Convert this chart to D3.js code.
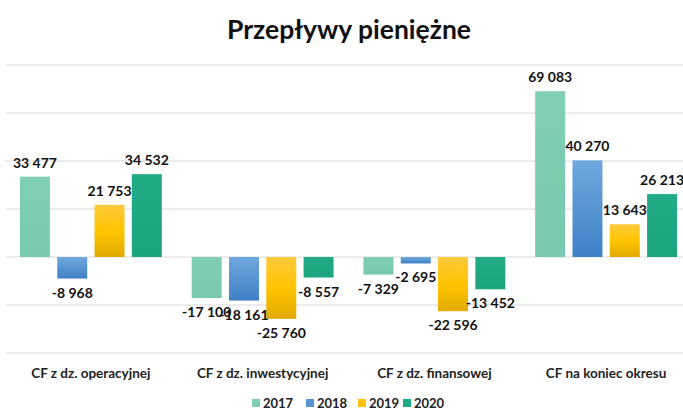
<!DOCTYPE html>
<html>
<head>
<meta charset="utf-8">
<script src="https://cdn.jsdelivr.net/npm/d3@7.9.0/dist/d3.min.js"></script>
<style>
  html, body { margin: 0; padding: 0; background: #fff; }
  svg { display: block; font-family: Lato, "Open Sans", sans-serif; }
</style>
</head>
<body>
<div id="chart"></div>
<script>
const categories = ['CF z dz. operacyjnej', 'CF z dz. inwestycyjnej', 'CF z dz. finansowej', 'CF na koniec okresu'];
const years = ['2017', '2018', '2019', '2020'];
const v2017 = [33477, -17100, -7329, 69083];
const v2018 = [-8968, -18161, -2695, 40270];
const v2019 = [21753, -25760, -22596, 13643];
const v2020 = [34532, -8557, -13452, 26213];
const yTicks = [-40000, -20000, 0, 20000, 40000, 60000, 80000];

const seriesValues = [v2017, v2018, v2019, v2020];
const width = 683, height = 410;

const fmt = d3.formatLocale({ decimal: ',', thousands: '\u00a0', grouping: [3], currency: ['', ''], minus: '-' }).format(',d');

const svg = d3.select('#chart').append('svg')
  .attr('width', width).attr('height', height);

// gradients
const defs = svg.append('defs');
const grads = [
  ['g2017', '#80cfb4', '#78c9ad'],
  ['g2018', '#70a8de', '#3f80c6'],
  ['g2019', '#ffca3c', '#e2ab00'],
  ['g2020', '#20ab87', '#1ca47f'],
];
grads.forEach(([id, c1, c2]) => {
  const lg = defs.append('linearGradient').attr('id', id)
    .attr('x1', 0).attr('y1', 0).attr('x2', 0).attr('y2', 1);
  lg.append('stop').attr('offset', '0%').attr('stop-color', c1);
  if (id === 'g2019') lg.append('stop').attr('offset', '50%').attr('stop-color', '#ffc400');
  lg.append('stop').attr('offset', '100%').attr('stop-color', c2);
});
const legendColors = ['#7fcdb2', '#5593d3', '#ffc000', '#1fa884'];

const x0 = d3.scaleBand().domain(categories).range([5, 692]).paddingInner(0).paddingOuter(0);
const x1 = d3.scaleBand().domain(years).range([0, x0.bandwidth()]).paddingInner(0.196).paddingOuter(0.4);
const y = d3.scaleLinear().domain([-40000, 80000]).range([353, 65]);

// gridlines
svg.append('g')
  .selectAll('line').data(yTicks).join('line')
  .attr('x1', 5).attr('x2', 683)
  .attr('y1', d => y(d)).attr('y2', d => y(d))
  .attr('stroke', '#d9d9d9').attr('stroke-width', 1);

// title
svg.append('text')
  .attr('x', 349).attr('y', 39)
  .attr('text-anchor', 'middle')
  .attr('font-size', 26.5).attr('font-weight', 'bold').attr('fill', '#111')
  .text('Przepływy pieniężne');

// bars
const data = [];
categories.forEach((c, i) => {
  years.forEach((yr, j) => data.push({ cat: c, year: yr, j, value: seriesValues[j][i] }));
});

const groups = svg.append('g');
groups.selectAll('rect').data(data).join('rect')
  .attr('x', d => x0(d.cat) + x1(d.year))
  .attr('width', x1.bandwidth())
  .attr('y', d => y(Math.max(0, d.value)))
  .attr('height', d => Math.abs(y(d.value) - y(0)))
  .attr('fill', d => `url(#g${d.year})`);

// labels
groups.selectAll('text.val').data(data).join('text')
  .attr('class', 'val')
  .attr('x', d => x0(d.cat) + x1(d.year) + x1.bandwidth() / 2)
  .attr('y', d => d.value >= 0 ? y(d.value) - 9 : y(d.value) + 19)
  .attr('text-anchor', 'middle')
  .attr('font-size', 14).attr('font-weight', 'bold').attr('fill', '#111')
  .text(d => fmt(d.value));

// category axis labels
svg.append('g').selectAll('text').data(categories).join('text')
  .attr('x', d => x0(d) + x0.bandwidth() / 2)
  .attr('y', 378)
  .attr('text-anchor', 'middle')
  .attr('font-size', 13.5).attr('font-weight', 'bold').attr('fill', '#222')
  .text(d => d);

// legend
const legendX = [252, 306, 358, 403];
const legend = svg.append('g');
years.forEach((yr, i) => {
  legend.append('rect').attr('x', legendX[i]).attr('y', 399).attr('width', 8).attr('height', 8)
    .attr('fill', legendColors[i]);
  legend.append('text').attr('x', legendX[i] + 11).attr('y', 407.5)
    .attr('font-size', 13).attr('font-weight', 'bold').attr('fill', '#222')
    .text(yr);
});
</script>
</body>
</html>
